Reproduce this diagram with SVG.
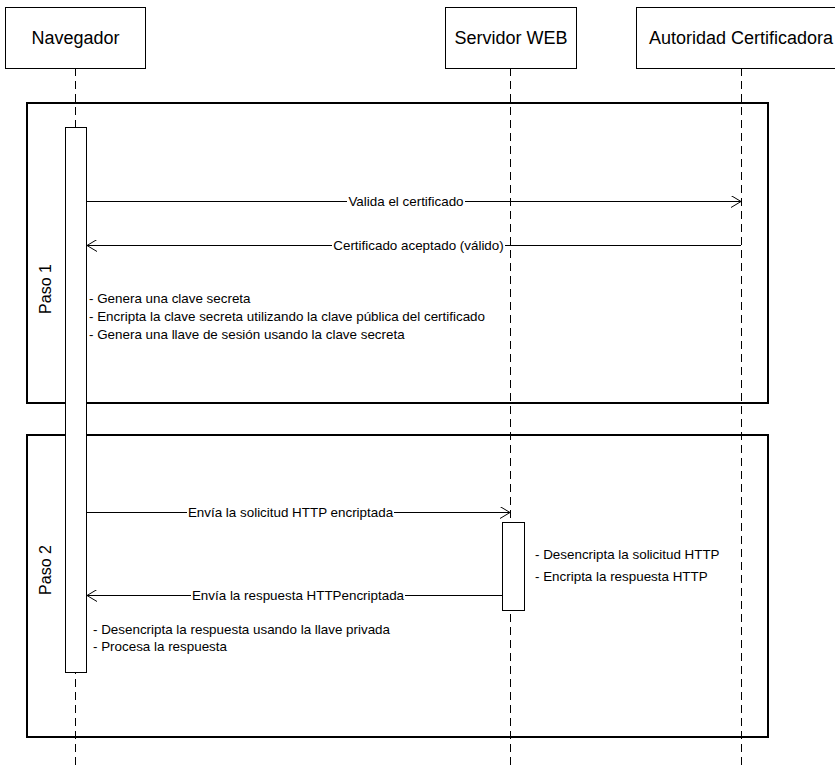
<svg xmlns="http://www.w3.org/2000/svg" width="835" height="767" viewBox="0 0 835 767">
<style>
text{font-family:"Liberation Sans",Arial,sans-serif;fill:#000}
.title{font-size:18px}
.lbl{font-size:13.4px}
.step{font-size:16px}
.box{fill:#fff;stroke:#000;stroke-width:1}
.frame{fill:none;stroke:#000;stroke-width:2}
.life{stroke:#000;stroke-width:1;stroke-dasharray:8 5;fill:none}
.msg{stroke:#000;stroke-width:1;fill:none}
.bg{fill:#fff}
</style>
<defs>
<marker id="arr" viewBox="0 0 10 12" refX="10" refY="6" markerWidth="10" markerHeight="12" markerUnits="userSpaceOnUse" orient="auto">
<path d="M0,0 L10,6 L0,12" fill="none" stroke="#000" stroke-width="1"/>
</marker>
</defs>

<g id="lifelines">
<line class="life" x1="75.5" y1="68" x2="75.5" y2="767"/>
<line class="life" x1="510.5" y1="68" x2="510.5" y2="767"/>
<line class="life" x1="741.5" y1="68" x2="741.5" y2="767"/>
</g>

<g id="paso1">
<rect class="frame" x="27" y="103" width="741" height="300"/>
<text class="step" transform="translate(51,289) rotate(-90)" text-anchor="middle">Paso 1</text>
</g>
<g id="paso2">
<rect class="frame" x="27" y="435" width="741" height="302"/>
<text class="step" transform="translate(51,570) rotate(-90)" text-anchor="middle">Paso 2</text>
</g>

<g id="navegador">
<rect class="box" x="5.5" y="7.5" width="140" height="61"/>
<text class="title" x="75.5" y="44" text-anchor="middle">Navegador</text>
<rect class="box" x="65.5" y="127.5" width="21" height="545"/>
</g>
<g id="servidor">
<rect class="box" x="445.5" y="7.5" width="131" height="61"/>
<text class="title" x="511" y="44" text-anchor="middle">Servidor WEB</text>
<rect class="box" x="502.5" y="522.5" width="22" height="88"/>
</g>
<g id="autoridad">
<rect class="box" x="636.5" y="7.5" width="205" height="61"/>
<text class="title" x="741" y="44" text-anchor="middle">Autoridad Certificadora</text>
</g>

<g id="connectors">
<line class="msg" x1="86.5" y1="201.5" x2="741" y2="201.5" marker-end="url(#arr)"/>
<rect class="bg" x="347" y="193" width="118" height="17"/>
<text class="lbl" x="406" y="206" text-anchor="middle">Valida el certificado</text>

<line class="msg" x1="741" y1="245.5" x2="87" y2="245.5" marker-end="url(#arr)"/>
<rect class="bg" x="332" y="237" width="173" height="17"/>
<text class="lbl" x="418.5" y="250" text-anchor="middle">Certificado aceptado (válido)</text>

<line class="msg" x1="86.5" y1="512.5" x2="510" y2="512.5" marker-end="url(#arr)"/>
<rect class="bg" x="187" y="504" width="207" height="17"/>
<text class="lbl" x="290.5" y="517" text-anchor="middle">Envía la solicitud HTTP encriptada</text>

<line class="msg" x1="502" y1="595.5" x2="87" y2="595.5" marker-end="url(#arr)"/>
<rect class="bg" x="191" y="587" width="214" height="17"/>
<text class="lbl" x="298" y="600" text-anchor="middle">Envía la respuesta HTTPencriptada</text>
</g>

<g id="notes">
<text class="lbl" x="89" y="303">- Genera una clave secreta</text>
<text class="lbl" x="89" y="321">- Encripta la clave secreta utilizando la clave pública del certificado</text>
<text class="lbl" x="89" y="339">- Genera una llave de sesión usando la clave secreta</text>
<text class="lbl" x="535" y="559">- Desencripta la solicitud HTTP</text>
<text class="lbl" x="535" y="581">- Encripta la respuesta HTTP</text>
<text class="lbl" x="93" y="634">- Desencripta la respuesta usando la llave privada</text>
<text class="lbl" x="93" y="651">- Procesa la respuesta</text>
</g>
</svg>
